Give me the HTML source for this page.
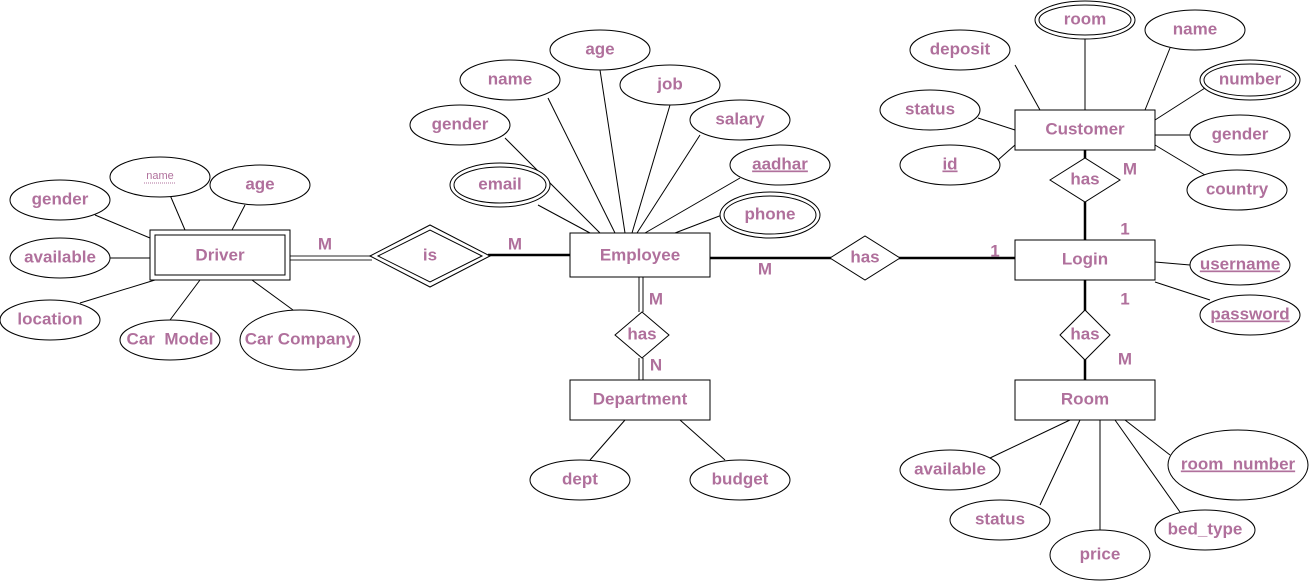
<!DOCTYPE html>
<html><head><style>
html,body{margin:0;padding:0;background:#fff;}
svg{display:block;}
text{font-family:"Liberation Sans",Arial,sans-serif;font-weight:bold;font-size:17px;fill:#b0709c;text-anchor:middle;dominant-baseline:middle;}
.e{fill:#fff;stroke:#000;stroke-width:1;}
.l{stroke:#000;stroke-width:1;fill:none;}
.t{stroke:#000;stroke-width:2.5;fill:none;}
</style></head><body>
<svg width="1309" height="582" viewBox="0 0 1309 582" xmlns="http://www.w3.org/2000/svg">
<!-- connector lines -->
<g class="l">
<line x1="95" y1="215" x2="150" y2="238"/>
<line x1="170" y1="195" x2="185" y2="230"/>
<line x1="245" y1="205" x2="232" y2="230"/>
<line x1="110" y1="258" x2="150" y2="258"/>
<line x1="80" y1="303" x2="155" y2="280"/>
<line x1="170" y1="320" x2="200" y2="280"/>
<line x1="293" y1="310" x2="252" y2="280"/>
<line x1="538" y1="205" x2="590" y2="233"/>
<line x1="505" y1="138" x2="600" y2="233"/>
<line x1="548" y1="98" x2="615" y2="233"/>
<line x1="600" y1="70" x2="625" y2="233"/>
<line x1="670" y1="105" x2="632" y2="233"/>
<line x1="700" y1="135" x2="637" y2="233"/>
<line x1="740" y1="178" x2="645" y2="233"/>
<line x1="722" y1="215" x2="675" y2="233"/>
<line x1="625" y1="420" x2="590" y2="460"/>
<line x1="680" y1="420" x2="725" y2="460"/>
<line x1="1085" y1="38" x2="1085" y2="110"/>
<line x1="1015" y1="65" x2="1040" y2="110"/>
<line x1="1170" y1="48" x2="1145" y2="110"/>
<line x1="1205" y1="88" x2="1155" y2="120"/>
<line x1="978" y1="118" x2="1015" y2="130"/>
<line x1="1195" y1="135" x2="1155" y2="135"/>
<line x1="998" y1="160" x2="1015" y2="145"/>
<line x1="1205" y1="175" x2="1155" y2="145"/>
<line x1="1155" y1="262" x2="1190" y2="265"/>
<line x1="1155" y1="282" x2="1210" y2="300"/>
<line x1="1070" y1="420" x2="990" y2="458"/>
<line x1="1080" y1="420" x2="1040" y2="505"/>
<line x1="1100" y1="420" x2="1100" y2="530"/>
<line x1="1115" y1="420" x2="1180" y2="512"/>
<line x1="1125" y1="420" x2="1170" y2="455"/>
</g>
<!-- relationship lines -->
<line x1="290" y1="256" x2="372" y2="256" stroke="#555" stroke-width="1.2"/>
<line x1="290" y1="260" x2="372" y2="260" stroke="#555" stroke-width="1.2"/>
<line x1="488" y1="255" x2="570" y2="255" class="t" stroke-width="2"/>
<line x1="710" y1="258" x2="1015" y2="258" class="t"/>
<line x1="1085" y1="150" x2="1085" y2="240" class="t"/>
<line x1="1085" y1="280" x2="1085" y2="380" class="t"/>
<g stroke="#333" stroke-width="1.2">
<line x1="639" y1="277" x2="639" y2="312"/><line x1="643" y1="277" x2="643" y2="312"/>
<line x1="639" y1="358" x2="639" y2="380"/><line x1="643" y1="358" x2="643" y2="380"/>
</g>
<!-- entities -->
<rect x="150" y="230" width="140" height="50" class="e"/>
<rect x="155" y="235" width="130" height="40" class="e"/>
<text x="220" y="256">Driver</text>
<rect x="570" y="233" width="140" height="44" class="e"/><text x="640" y="256">Employee</text>
<rect x="570" y="380" width="140" height="40" class="e"/><text x="640" y="400">Department</text>
<rect x="1015" y="110" width="140" height="40" class="e"/><text x="1085" y="130">Customer</text>
<rect x="1015" y="240" width="140" height="40" class="e"/><text x="1085" y="260">Login</text>
<rect x="1015" y="380" width="140" height="40" class="e"/><text x="1085" y="400">Room</text>
<!-- relationships -->
<polygon points="370,256 430,225 490,256 430,287" class="e"/>
<polygon points="378,256 430,230 482,256 430,282" class="e"/>
<text x="430" y="256">is</text>
<polygon points="830,258 865,236 900,258 865,280" class="e"/><text x="865" y="258">has</text>
<polygon points="615,335 642,312 669,335 642,358" class="e"/><text x="642" y="335">has</text>
<polygon points="1050,180 1085,158 1120,180 1085,202" class="e"/><text x="1085" y="180">has</text>
<polygon points="1060,335 1085,310 1110,335 1085,360" class="e"/><text x="1085" y="335">has</text>
<!-- cardinalities -->
<text x="325" y="245">M</text><text x="515" y="245">M</text>
<text x="765" y="270">M</text><text x="995" y="252">1</text>
<text x="656" y="300">M</text><text x="656" y="366">N</text>
<text x="1130" y="170">M</text><text x="1125" y="230">1</text>
<text x="1125" y="300">1</text><text x="1125" y="360">M</text>
<!-- attributes -->
<g>
<ellipse cx="60" cy="200" rx="50" ry="20" class="e"/><text x="60" y="200">gender</text>
<ellipse cx="160" cy="177" rx="50" ry="20" class="e"/><text x="160" y="176" style="font-size:11px;font-weight:normal">name</text>
<line x1="144" y1="183" x2="176" y2="183" stroke="#b0709c" stroke-dasharray="1,1"/>
<ellipse cx="260" cy="185" rx="50" ry="20" class="e"/><text x="260" y="185">age</text>
<ellipse cx="60" cy="258" rx="50" ry="20" class="e"/><text x="60" y="258">available</text>
<ellipse cx="50" cy="320" rx="50" ry="20" class="e"/><text x="50" y="320">location</text>
<ellipse cx="170" cy="340" rx="50" ry="20" class="e"/><text x="170" y="340">Car&#160;&#160;Model</text>
<ellipse cx="300" cy="340" rx="60" ry="30" class="e"/><text x="300" y="340">Car Company</text>

<ellipse cx="500" cy="185" rx="50" ry="22" class="e"/><ellipse cx="500" cy="185" rx="46" ry="18" class="e"/><text x="500" y="185">email</text>
<ellipse cx="460" cy="125" rx="50" ry="20" class="e"/><text x="460" y="125">gender</text>
<ellipse cx="510" cy="80" rx="50" ry="20" class="e"/><text x="510" y="80">name</text>
<ellipse cx="600" cy="50" rx="50" ry="20" class="e"/><text x="600" y="50">age</text>
<ellipse cx="670" cy="85" rx="50" ry="20" class="e"/><text x="670" y="85">job</text>
<ellipse cx="740" cy="120" rx="50" ry="20" class="e"/><text x="740" y="120">salary</text>
<ellipse cx="780" cy="165" rx="50" ry="20" class="e"/><text x="780" y="165" text-decoration="underline">aadhar</text>
<ellipse cx="770" cy="215" rx="50" ry="23" class="e"/><ellipse cx="770" cy="215" rx="46" ry="19" class="e"/><text x="770" y="215">phone</text>

<ellipse cx="580" cy="480" rx="50" ry="20" class="e"/><text x="580" y="480">dept</text>
<ellipse cx="740" cy="480" rx="50" ry="20" class="e"/><text x="740" y="480">budget</text>

<ellipse cx="1085" cy="20" rx="50" ry="19" class="e"/><ellipse cx="1085" cy="20" rx="46" ry="15" class="e"/><text x="1085" y="20">room</text>
<ellipse cx="960" cy="50" rx="50" ry="20" class="e"/><text x="960" y="50">deposit</text>
<ellipse cx="1195" cy="30" rx="50" ry="20" class="e"/><text x="1195" y="30">name</text>
<ellipse cx="1250" cy="80" rx="50" ry="20" class="e"/><ellipse cx="1250" cy="80" rx="46" ry="16" class="e"/><text x="1250" y="80">number</text>
<ellipse cx="930" cy="110" rx="50" ry="20" class="e"/><text x="930" y="110">status</text>
<ellipse cx="1240" cy="135" rx="50" ry="20" class="e"/><text x="1240" y="135">gender</text>
<ellipse cx="950" cy="165" rx="50" ry="20" class="e"/><text x="950" y="165" text-decoration="underline">id</text>
<ellipse cx="1237" cy="190" rx="50" ry="20" class="e"/><text x="1237" y="190">country</text>
<ellipse cx="1240" cy="265" rx="50" ry="20" class="e"/><text x="1240" y="265" text-decoration="underline">username</text>
<ellipse cx="1250" cy="315" rx="50" ry="20" class="e"/><text x="1250" y="315" text-decoration="underline">password</text>

<ellipse cx="950" cy="470" rx="50" ry="20" class="e"/><text x="950" y="470">available</text>
<ellipse cx="1000" cy="520" rx="50" ry="20" class="e"/><text x="1000" y="520">status</text>
<ellipse cx="1100" cy="555" rx="50" ry="25" class="e"/><text x="1100" y="555">price</text>
<ellipse cx="1205" cy="530" rx="50" ry="20" class="e"/><text x="1205" y="530">bed_type</text>
<ellipse cx="1238" cy="465" rx="70" ry="35" class="e"/><text x="1238" y="465" text-decoration="underline">room_number</text>
</g>
</svg>
</body></html>
